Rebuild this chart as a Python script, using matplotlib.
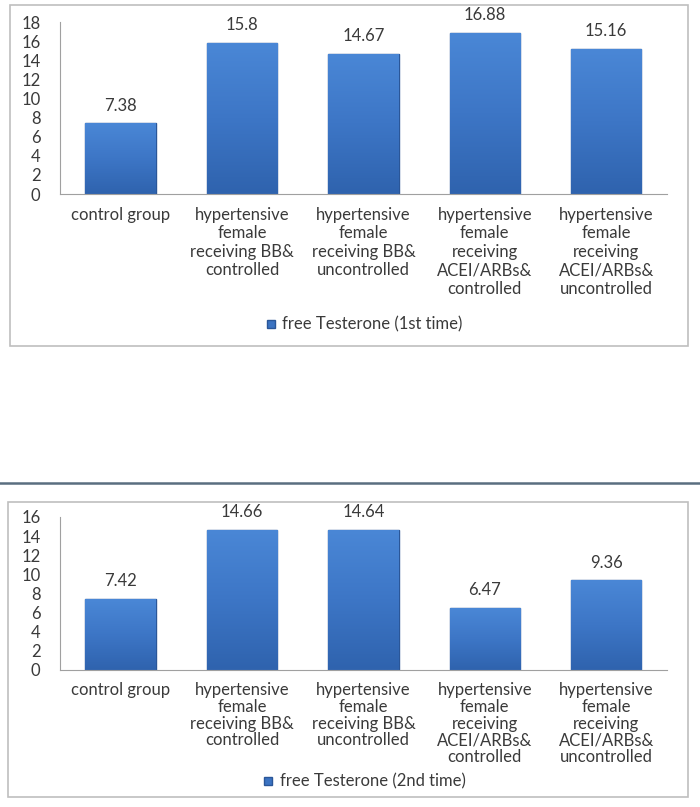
import matplotlib
matplotlib.use("Agg")
import matplotlib.pyplot as plt
import numpy as np
from matplotlib.patches import Rectangle
from matplotlib.lines import Line2D
from matplotlib.colors import LinearSegmentedColormap

plt.rcParams['font.family'] = ['Lato', 'DejaVu Sans']

categories = ["control group",
              "hypertensive\nfemale\nreceiving BB&\ncontrolled",
              "hypertensive\nfemale\nreceiving BB&\nuncontrolled",
              "hypertensive\nfemale\nreceiving\nACEI/ARBs&\ncontrolled",
              "hypertensive\nfemale\nreceiving\nACEI/ARBs&\nuncontrolled"]
first_time = [7.38, 15.8, 14.67, 16.88, 15.16]
second_time = [7.42, 14.66, 14.64, 6.47, 9.36]
first_labels = ["7.38", "15.8", "14.67", "16.88", "15.16"]
second_labels = ["7.42", "14.66", "14.64", "6.47", "9.36"]

bar_color = "#3B73C2"
edge_color = "#2A5698"
text_color = "#3A3A3A"
grad = LinearSegmentedColormap.from_list("bar", ["#2F63AE", "#3D76C6", "#4A87D6"])

fig = plt.figure(figsize=(7, 8.07), dpi=100)


def draw_chart(rect, values, labels, ymax, legend_text, legend_y, spacing):
    ax = fig.add_axes(rect)
    x = range(len(values))
    bars = ax.bar(x, values, width=0.58, color=bar_color, edgecolor=edge_color, linewidth=1)
    # vertical gradient on each bar
    g = np.linspace(0, 1, 100).reshape(-1, 1)
    for b in bars:
        x0, w, h = b.get_x(), b.get_width(), b.get_height()
        im = ax.imshow(g, extent=[x0, x0 + w, 0, h], origin="lower", aspect="auto",
                       cmap=grad, zorder=b.get_zorder() + 0.1)
        im.set_clip_path(b)
    for xi, v, lab in zip(x, values, labels):
        ax.annotate(lab, (xi, v), xytext=(0, 7), textcoords="offset points",
                    ha="center", va="bottom", fontsize=12, color=text_color)
    ax.set_xlim(-0.5, len(values) - 0.5)
    ax.set_ylim(0, ymax)
    ax.set_yticks(range(0, ymax + 1, 2))
    ax.set_xticks(list(x))
    ax.set_xticklabels(categories, fontsize=12, color=text_color, linespacing=spacing)
    ax.tick_params(axis="x", length=0, pad=9)
    ax.tick_params(axis="y", length=0, pad=14, labelsize=12, labelcolor=text_color)
    for s in ["top", "right"]:
        ax.spines[s].set_visible(False)
    for s in ["left", "bottom"]:
        ax.spines[s].set_color("#A0A0A0")
    handle = Line2D([], [], marker="s", linestyle="none", markersize=6,
                    markerfacecolor=bar_color, markeredgecolor=edge_color)
    ax.legend([handle], [legend_text], loc="center", bbox_to_anchor=(0.5, legend_y),
              frameon=False, fontsize=12, handlelength=0.8, handletextpad=0.3,
              labelcolor=text_color)
    return ax


draw_chart([0.0857, 0.7596, 0.867, 0.2131], first_time, first_labels, 18,
           "free Testerone (1st time)", -0.76, 1.2)
draw_chart([0.0857, 0.1698, 0.867, 0.1896], second_time, second_labels, 16,
           "free Testerone (2nd time)", -0.73, 1.05)

# outer boxes and separator
fig.patches.append(Rectangle((0.0143, 0.5713), 0.9686, 0.4226, transform=fig.transFigure,
                             fill=False, edgecolor="#BFBFBF", linewidth=1.2))
fig.patches.append(Rectangle((0.0114, 0.0124), 0.9715, 0.3656, transform=fig.transFigure,
                             fill=False, edgecolor="#BFBFBF", linewidth=1.2))
fig.lines.append(Line2D([0, 1], [0.4015, 0.4015], transform=fig.transFigure,
                        color="#5A6E80", linewidth=1.8))

fig.savefig("out.png", dpi=100)
